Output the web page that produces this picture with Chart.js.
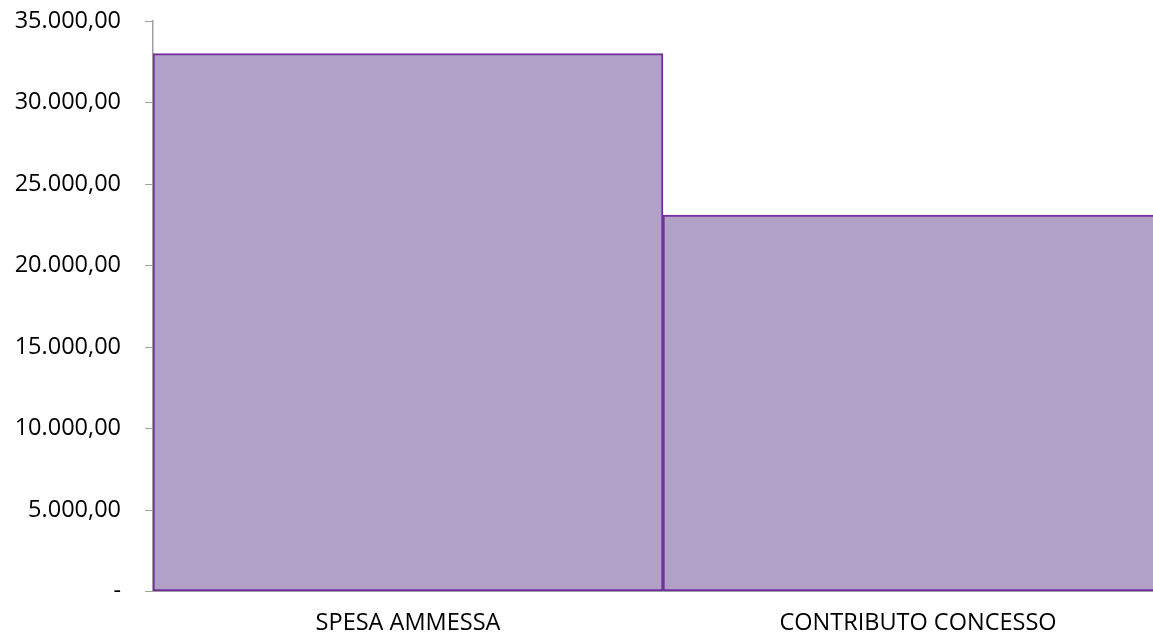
<!DOCTYPE html>
<html>
<head>
<meta charset="utf-8">
<script src="https://cdn.jsdelivr.net/npm/chart.js@4"></script>
<style>
  html, body { margin: 0; padding: 0; background: #fff; overflow: hidden; }
  #wrap { width: 1173px; height: 656px; position: relative; margin-top: -17px; }
</style>
</head>
<body>
<div id="wrap"><canvas id="chart"></canvas></div>
<script>
const categories = ["SPESA AMMESSA", "CONTRIBUTO CONCESSO"];
const values = [33000, 23100];
const yMax = 35000;
const yStep = 5000;

function fmt(v) {
  if (v === 0) return "-";
  return v.toLocaleString("it-IT", { minimumFractionDigits: 2, maximumFractionDigits: 2 });
}

const font = { family: "'Open Sans', Lato, sans-serif", size: 23.5 };

new Chart(document.getElementById("chart"), {
  type: "bar",
  data: {
    labels: categories,
    datasets: [{
      data: values,
      backgroundColor: "#b2a1c7",
      borderColor: "#7030a0",
      borderWidth: 2,
      borderSkipped: false,
      barPercentage: 1,
      categoryPercentage: 1,
    }],
  },
  options: {
    responsive: true,
    maintainAspectRatio: false,
    animation: false,
    layout: { padding: 0 },
    plugins: { legend: { display: false }, tooltip: { enabled: false } },
    scales: {
      x: {
        grid: { display: false, drawTicks: false },
        border: { display: true, color: "#a0a0a0", width: 1 },
        ticks: { color: "#000", font, padding: 18 },
        afterFit: (s) => { s.height = 47.5; },
      },
      y: {
        min: 0,
        max: yMax,
        ticks: { stepSize: yStep, color: "#000", font, padding: 24, callback: (v) => fmt(v) },
        grid: { drawOnChartArea: false, drawTicks: true, tickLength: 8, color: "#a0a0a0" },
        border: { display: true, color: "#a0a0a0", width: 1.5 },
        afterFit: (s) => { s.width = 153; },
      },
    },
  },
});
</script>
</body>
</html>
